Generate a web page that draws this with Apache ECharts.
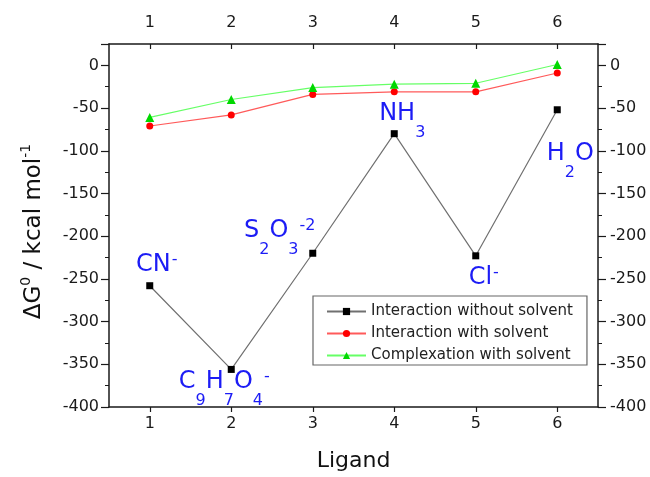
<!DOCTYPE html>
<html>
<head>
<meta charset="utf-8">
<script src="https://cdn.jsdelivr.net/npm/echarts@6/dist/echarts.min.js"></script>
<style>
  html, body { margin: 0; padding: 0; background: #fff; }
  #chart { width: 650px; height: 477px; }
</style>
</head>
<body>
<div id="chart"></div>
<script>
// ligand index 1..6
var ligands = ['1', '2', '3', '4', '5', '6'];
var withoutSolvent = [-258, -356, -220, -80, -223, -52];
var withSolvent = [-71, -58, -34, -31, -31, -9];
var complexation = [-61, -40, -26, -22, -21, 1];
var ligandNames = [
    '{m|CN}{sup|-}',
    '{m|C}{sub|9}{m|H}{sub|7}{m|O}{sub|4}{sup|-}',
    '{m|S}{sub|2}{m|O}{sub|3}{sup|-2}',
    '{m|NH}{sub|3}',
    '{m|Cl}{sup|-}',
    '{m|H}{sub|2}{m|O}'
];

// where each ligand name sits relative to its point
var nameOffsets = [[7, -21], [-7, 12], [-33, -22], [8, -20], [8, 22], [13, 44]];

var chart = echarts.init(document.getElementById('chart'), null, { renderer: 'canvas' });

var font = 'DejaVu Sans, sans-serif';
var axisColor = '#1a1a1a';
var blue = '#1c1cf5';

var nameRich = {
    m: { fontSize: 24, lineHeight: 54, color: blue, fontFamily: font },
    sub: { fontSize: 16, verticalAlign: 'bottom', color: blue, fontFamily: font },
    sup: { fontSize: 16, verticalAlign: 'middle', color: blue, fontFamily: font, padding: [0, 0, 10, 1] }
};

var blackData = withoutSolvent.map(function (v, i) {
    return {
        value: v,
        label: {
            show: true,
            position: 'inside',
            align: 'center',
            verticalAlign: 'middle',
            offset: nameOffsets[i],
            formatter: ligandNames[i],
            rich: nameRich
        }
    };
});

function xAxisCfg(pos) {
    return {
        type: 'category',
        position: pos,
        data: ligands,
        boundaryGap: true,
        axisLine: { show: true, onZero: false, lineStyle: { color: axisColor, width: 1.5 } },
        axisTick: { show: true, alignWithLabel: true, inside: pos === 'top', length: 5, lineStyle: { color: axisColor, width: 1.2 } },
        axisLabel: { color: axisColor, fontSize: 16, fontFamily: font, margin: pos === 'top' ? 13 : 9 },
        splitLine: { show: false }
    };
}

function yAxisCfg(pos) {
    return {
        type: 'value',
        position: pos,
        min: -400,
        max: 25,
        interval: 50,
        axisLine: { show: true, onZero: false, lineStyle: { color: axisColor, width: 1.5 } },
        axisTick: { show: true, length: 8, lineStyle: { color: axisColor, width: 1.2 } },
        minorTick: { show: true, splitNumber: 2, length: 4, lineStyle: { color: axisColor, width: 1 } },
        axisLabel: {
            color: axisColor, fontSize: 16, fontFamily: font, margin: pos === 'left' ? 10 : 12,
            showMaxLabel: false,
            formatter: function (v) { return v % 50 === 0 ? String(v) : ''; }
        },
        splitLine: { show: false }
    };
}

var xBottom = xAxisCfg('bottom');
xBottom.name = 'Ligand';
xBottom.nameLocation = 'middle';
xBottom.nameGap = 43;
xBottom.nameTextStyle = { fontSize: 22, color: '#111', fontFamily: font };

var yLeft = yAxisCfg('left');
yLeft.name = 'ΔG{sup|0} / kcal mol{sup|-1}';
yLeft.nameLocation = 'middle';
yLeft.nameGap = 60;
yLeft.nameTextStyle = {
    fontSize: 23, color: '#111', fontFamily: font, lineHeight: 30,
    padding: [0, 12, 0, 0],
    rich: {
        sup: { fontSize: 14, lineHeight: 30, verticalAlign: 'top', color: '#111', fontFamily: font }
    }
};

var option = {
    animation: false,
    backgroundColor: '#fff',
    grid: { left: 109, right: 52, top: 44, bottom: 69, containLabel: false },
    legend: {
        orient: 'vertical',
        left: 313,
        top: 296,
        padding: [8, 14, 2, 13],
        itemWidth: 39,
        itemHeight: 9,
        itemGap: 7,
        borderColor: '#666',
        borderWidth: 1.2,
        borderRadius: 0,
        textStyle: { fontSize: 15, color: '#222', fontFamily: font, lineHeight: 14 },
        data: ['Interaction without solvent', 'Interaction with solvent', 'Complexation with solvent']
    },
    xAxis: [xBottom, xAxisCfg('top')],
    yAxis: [yLeft, yAxisCfg('right')],
    series: [
        {
            name: 'Interaction without solvent',
            type: 'line',
            data: blackData,
            symbol: 'rect',
            symbolSize: 7,
            itemStyle: { color: '#000' },
            lineStyle: { color: '#707070', width: 1.2 },
            z: 3
        },
        {
            name: 'Interaction with solvent',
            type: 'line',
            data: withSolvent,
            symbol: 'circle',
            symbolSize: 7,
            itemStyle: { color: '#ff0000' },
            lineStyle: { color: '#ff5a5a', width: 1.2 }
        },
        {
            name: 'Complexation with solvent',
            type: 'line',
            data: complexation,
            symbol: 'triangle',
            symbolSize: 9,
            itemStyle: { color: '#00d800' },
            lineStyle: { color: '#66ff66', width: 1.2 }
        }
    ]
};

chart.setOption(option);
</script>
</body>
</html>
